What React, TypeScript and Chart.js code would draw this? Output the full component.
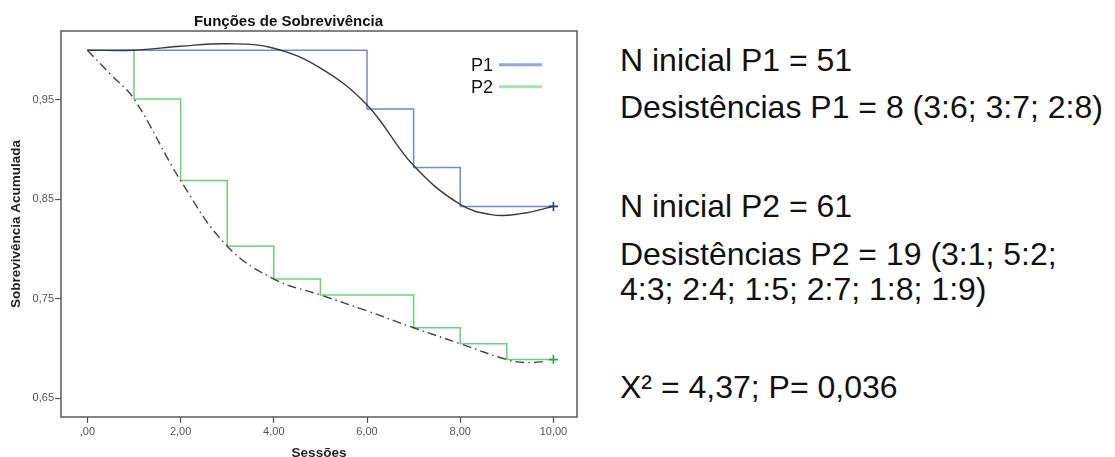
import React, { useEffect, useRef } from "react";
import { Chart, registerables } from "chart.js";

Chart.register(...registerables);

const chartTitle = "Funções de Sobrevivência";
const xAxisTitle = "Sessões";
const yAxisTitle = "Sobrevivência Acumulada";

const xTickValues = [0, 2, 4, 6, 8, 10];
const xTickLabels = [",00", "2,00", "4,00", "6,00", "8,00", "10,00"];
const yTickValues = [0.65, 0.75, 0.85, 0.95];
const yTickLabels = ["0,65", "0,75", "0,85", "0,95"];

const seriesNames = ["P1", "P2"];

// Kaplan-Meier steps
const p1StepX = [0, 6, 7, 8, 10];
const p1StepY = [1.0, 0.941, 0.882, 0.843, 0.843];
const p2StepX = [0, 1, 2, 3, 4, 5, 7, 8, 9, 10];
const p2StepY = [1.0, 0.951, 0.869, 0.803, 0.77, 0.754, 0.721, 0.705, 0.689, 0.689];

// fitted curves
const p1FitX = [0, 1, 2, 3, 4, 5, 6, 7, 8, 8.7, 9.3, 10];
const p1FitY = [1.0, 1.0, 1.004, 1.0065, 1.002, 0.982, 0.945, 0.884, 0.845, 0.8345, 0.8357, 0.843];
const p2FitX = [0, 0.5, 1, 2, 3, 4, 5, 6, 7, 8, 9, 9.4, 9.8];
const p2FitY = [1.0, 0.9755, 0.951, 0.869, 0.803, 0.77, 0.754, 0.738, 0.721, 0.705, 0.689, 0.686, 0.687];

const infoLines = [
  "N inicial P1 = 51",
  "Desistências P1 = 8 (3:6; 3:7; 2:8)",
  "N inicial P2 = 61",
  "Desistências P2 = 19 (3:1; 5:2;",
  "4:3; 2:4; 1:5; 2:7; 1:8; 1:9)",
  "X² = 4,37; P= 0,036",
];
const infoBaselines = [70.7, 118.3, 216.7, 265, 300, 398.3];

const FONT = "'Liberation Sans', Arial, sans-serif";
const P1_COLOR = "#7488cc";
const P2_COLOR = "#6cd07a";
const P1_LEGEND = "#95a4dc";
const P2_LEGEND = "#a6e4ae";

const toPoints = (xs: number[], ys: number[]) => xs.map((x, i) => ({ x, y: ys[i] }));
const lastOnly = (xs: number[], r: number) => xs.map((_, i) => (i === xs.length - 1 ? r : 0));

const framePlugin = {
  id: "frame",
  beforeDatasetsDraw(chart: any) {
    const { ctx, chartArea } = chart;
    ctx.save();
    ctx.strokeStyle = "#5a5a5a";
    ctx.lineWidth = 1.5;
    ctx.strokeRect(chartArea.left, chartArea.top, chartArea.right - chartArea.left, chartArea.bottom - chartArea.top);
    ctx.restore();
  },
};

const legendPlugin = {
  id: "innerLegend",
  afterDraw(chart: any) {
    const { ctx } = chart;
    const colors = [P1_LEGEND, P2_LEGEND];
    ctx.save();
    ctx.font = `18px ${FONT}`;
    ctx.fillStyle = "#111";
    ctx.textAlign = "right";
    ctx.textBaseline = "alphabetic";
    seriesNames.forEach((name, i) => {
      const y = 64.7 + i * 22;
      ctx.fillText(name, 493, y + 6.4);
      ctx.strokeStyle = colors[i];
      ctx.lineWidth = 3;
      ctx.beginPath();
      ctx.moveTo(499, y);
      ctx.lineTo(542, y);
      ctx.stroke();
    });
    ctx.restore();
  },
};

function SurvivalChart() {
  const ref = useRef<HTMLCanvasElement | null>(null);
  useEffect(() => {
    if (!ref.current) return;
    const chart = new Chart(ref.current, {
      type: "line",
      data: {
        datasets: [
          {
            label: "P1 ajuste",
            data: toPoints(p1FitX, p1FitY),
            borderColor: "#3a3a3a",
            borderWidth: 1.4,
            tension: 0.4,
            pointRadius: 0,
            fill: false,
            order: 0,
          },
          {
            label: "P2 ajuste",
            data: toPoints(p2FitX, p2FitY),
            borderColor: "#444",
            borderWidth: 1.4,
            borderDash: [9, 4, 1.5, 4],
            tension: 0.4,
            pointRadius: 0,
            fill: false,
            order: 0,
          },
          {
            label: seriesNames[0],
            data: toPoints(p1StepX, p1StepY),
            borderColor: P1_COLOR,
            borderWidth: 1.5,
            stepped: "before",
            pointStyle: "cross",
            pointRadius: lastOnly(p1StepX, 4.5),
            pointBorderColor: "#23388f",
            pointBorderWidth: 1.6,
            fill: false,
            order: 1,
          },
          {
            label: seriesNames[1],
            data: toPoints(p2StepX, p2StepY),
            borderColor: P2_COLOR,
            borderWidth: 1.5,
            stepped: "before",
            pointStyle: "cross",
            pointRadius: lastOnly(p2StepX, 4.5),
            pointBorderColor: "#22a83c",
            pointBorderWidth: 1.6,
            fill: false,
            order: 1,
          },
        ],
      },
      options: {
        animation: false,
        responsive: false,
        devicePixelRatio: 1,
        layout: { padding: { left: 0, right: 23, top: 0, bottom: 0 } },
        plugins: {
          legend: { display: false },
          tooltip: { enabled: false },
          title: {
            display: true,
            text: chartTitle,
            color: "#111",
            font: { family: FONT, size: 15, weight: "bold", lineHeight: 1.2 },
            padding: { top: 12.5, bottom: 0.5 },
          },
        },
        scales: {
          x: {
            type: "linear",
            min: -0.567,
            max: 10.506,
            afterFit: (s: any) => {
              s.height = 40;
            },
            afterBuildTicks: (s: any) => {
              s.ticks = xTickValues.map((v) => ({ value: v }));
            },
            ticks: {
              color: "#555",
              font: { family: FONT, size: 11 },
              padding: 2,
              maxRotation: 0,
              autoSkip: false,
              callback: (v: any) => {
                const i = xTickValues.indexOf(Number(v));
                return i >= 0 ? xTickLabels[i] : "";
              },
            },
            grid: { display: true, drawOnChartArea: false, drawTicks: true, tickLength: 6, color: "#555", tickWidth: 1.2 },
            border: { display: false },
            title: {
              display: true,
              text: xAxisTitle,
              color: "#222",
              font: { family: FONT, size: 13.5, weight: "bold", lineHeight: 1.2 },
              padding: { top: 0, bottom: -4 },
            },
          },
          y: {
            type: "linear",
            min: 0.6313,
            max: 1.0193,
            afterFit: (s: any) => {
              s.width = 61;
            },
            afterBuildTicks: (s: any) => {
              s.ticks = yTickValues.map((v) => ({ value: v }));
            },
            ticks: {
              color: "#555",
              font: { family: FONT, size: 11 },
              padding: 1,
              autoSkip: false,
              callback: (v: any) => {
                const i = yTickValues.findIndex((t) => Math.abs(t - Number(v)) < 1e-6);
                return i >= 0 ? yTickLabels[i] : "";
              },
            },
            grid: { display: true, drawOnChartArea: false, drawTicks: true, tickLength: 6, color: "#555", tickWidth: 1.2 },
            border: { display: false },
            title: {
              display: true,
              text: yAxisTitle,
              color: "#222",
              font: { family: FONT, size: 13.5, weight: "bold", lineHeight: 1.2 },
              padding: { top: 8.5, bottom: 0 },
            },
          },
        },
      },
      plugins: [framePlugin, legendPlugin],
    } as any);
    return () => chart.destroy();
  }, []);
  return <canvas ref={ref} width={600} height={457} style={{ position: "absolute", left: 0, top: 0, width: 600, height: 457 }} />;
}

export default function App() {
  return (
    <div style={{ position: "fixed", left: 0, top: 0, width: 1115, height: 457, background: "#fff", overflow: "hidden" }}>
      <SurvivalChart />
      {infoLines.map((line, i) => (
        <div
          key={i}
          style={{
            position: "absolute",
            left: 620,
            top: infoBaselines[i] - 27.1,
            fontFamily: FONT,
            fontSize: 32,
            lineHeight: "32px",
            color: "#111",
            whiteSpace: "nowrap",
          }}
        >
          {line}
        </div>
      ))}
    </div>
  );
}
